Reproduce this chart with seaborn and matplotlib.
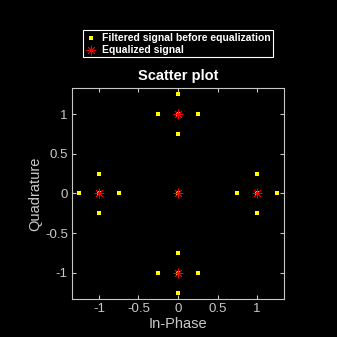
import matplotlib
matplotlib.use("Agg")
import matplotlib.pyplot as plt
import seaborn as sns
import pandas as pd

filt_i = [0, 0, -0.25, 0.25, 0, 0, 0, -0.25, 0.25, 0, -1.25, -0.75, -1, -1, -1, 1.25, 0.75, 1, 1, 1, 0]
filt_q = [1.25, 0.75, 1, 1, 1, -0.75, -1.25, -1, -1, -1, 0, 0, 0.25, -0.25, 0, 0, 0, 0.25, -0.25, 0, 0]
eq_i = [0, 0, -1, 1, 0]
eq_q = [1, -1, 0, 0, 0]
xticks = [-1, -0.5, 0, 0.5, 1]
yticks = [-1, -0.5, 0, 0.5, 1]

sns.set_style("dark")
plt.rcParams['font.family'] = ['Liberation Sans', 'DejaVu Sans']

fig = plt.figure(figsize=(3.37, 3.37), dpi=100, facecolor='black')
ax = fig.add_axes([0.2136, 0.1128, 0.6294, 0.6262])
ax.set_facecolor('black')

df1 = pd.DataFrame({'I': filt_i, 'Q': filt_q})
df2 = pd.DataFrame({'I': eq_i, 'Q': eq_q})
sns.scatterplot(data=df1, x='I', y='Q', ax=ax, color='#ffff00', marker='s', s=5.5,
                linewidth=0, label='Filtered signal before equalization', zorder=2)
sns.scatterplot(data=df2, x='I', y='Q', ax=ax, color='#ff0000', marker=(8, 2, 0), s=42,
                linewidth=0.6, edgecolor='#ff0000', label='Equalized signal', zorder=3)

ax.set_xlim(-1.34, 1.34)
ax.set_ylim(-1.33, 1.33)
ax.set_xticks(xticks)
ax.set_yticks(yticks)
ax.set_xticklabels(['-1', '-0.5', '0', '0.5', '1'])
ax.set_yticklabels(['-1', '-0.5', '0', '0.5', '1'])
gc = '#c8c8c8'
for sp in ax.spines.values():
    sp.set_visible(True)
    sp.set_color(gc)
    sp.set_linewidth(0.8)
ax.tick_params(direction='in', colors=gc, labelcolor=gc, labelsize=9.5, length=3,
               top=True, right=True, bottom=True, left=True, width=0.8, pad=3)
ax.grid(False)
ax.set_xlabel('In-Phase', color=gc, fontsize=10.5, labelpad=1)
ax.set_ylabel('Quadrature', color=gc, fontsize=10.5, labelpad=2)
ax.set_title('Scatter plot', color='white', fontsize=10.5, fontweight='bold', pad=6)

leg = ax.legend(loc='upper center', frameon=True, fontsize=7.5, facecolor='black',
                edgecolor='white', labelcolor='white', fancybox=False, borderpad=0.25,
                handletextpad=0.5, handlelength=1.0, labelspacing=0.2, borderaxespad=0,
                markerscale=1.0)
for t in leg.get_texts():
    t.set_fontweight('bold')
leg.get_frame().set_linewidth(0.8)
leg.get_frame().set_alpha(1)
leg.set_bbox_to_anchor((178/337, 1 - 30/337), transform=fig.transFigure)

fig.savefig('out.png', dpi=100, facecolor='black')
